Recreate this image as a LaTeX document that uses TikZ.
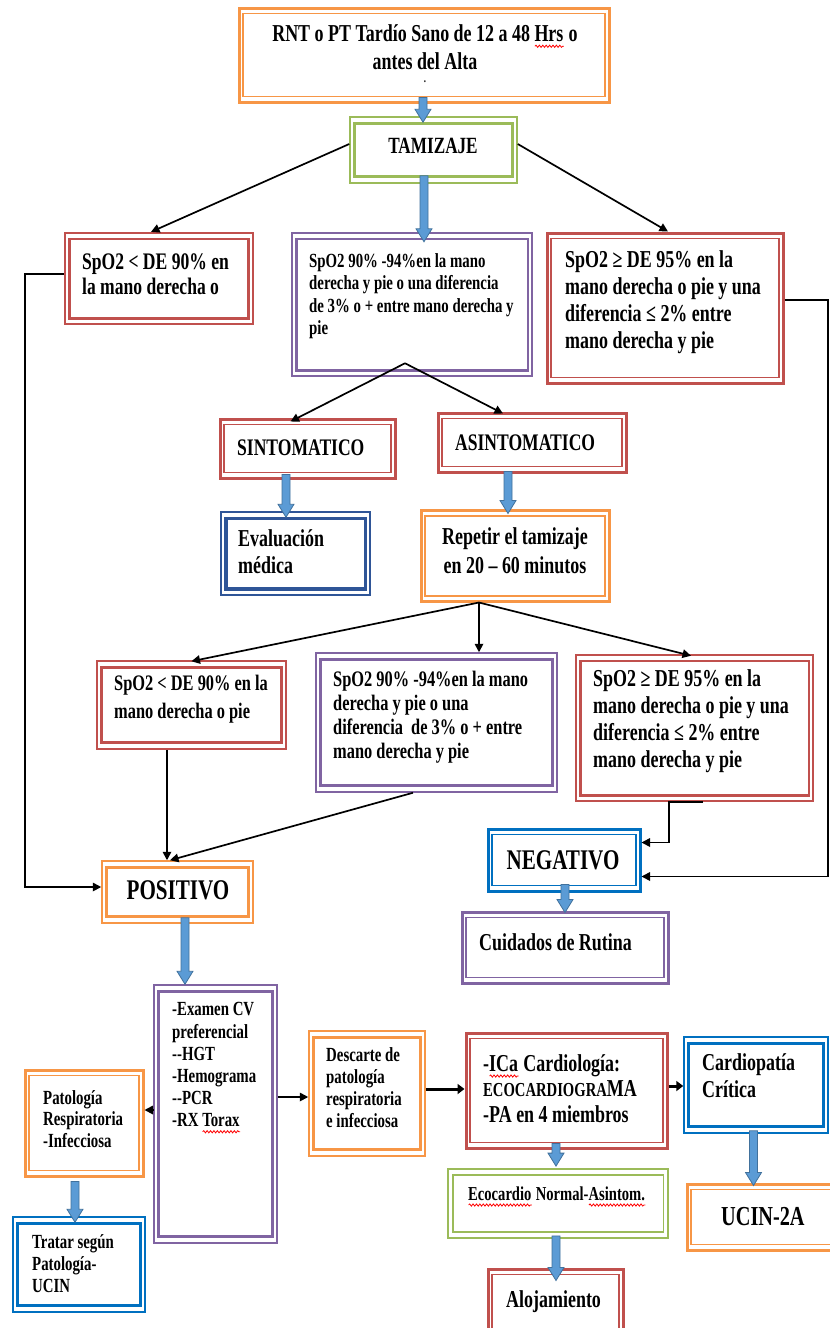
\documentclass[tikz,border=0pt]{standalone}
\usepackage{fontspec}
\setmainfont{Liberation Serif}[FakeStretch=0.74]
\usetikzlibrary{fit,calc,arrows.meta,decorations.pathmorphing}
\definecolor{cOr}{HTML}{F79646}
\definecolor{cGr}{HTML}{9BBB59}
\definecolor{cRd}{HTML}{C0504D}
\definecolor{cPu}{HTML}{8064A2}
\definecolor{cBl}{HTML}{0070C0}
\definecolor{cEv}{HTML}{2F5597}
\definecolor{arrfill}{HTML}{5B9BD5}
\definecolor{arrline}{HTML}{41719C}
\newlength\rwl
\newcommand\redwave[1]{\settowidth\rwl{#1}\rlap{#1}\tikz[baseline=0pt]\draw[red, line width=0.8pt, decorate, decoration={snake, amplitude=1.1pt, segment length=3.4pt}] (0pt,-4.8pt) -- (\rwl,-4.8pt);}
% box: name, x1, y1, x2, y2, colour, outer width, inner width
\newcommand\dblbox[8]{%
  \node[fit={(#2,#3) (#4,#5)}, inner sep=0pt, draw=#6, line width=#7pt, fill=white] (#1) {};
  \draw[#6, line width=#8pt] ([shift={(5.5pt,-7pt)}]#1.north west) rectangle ([shift={(-5.5pt,7pt)}]#1.south east);}
% text: name, x, baseline, size, skip, anchor, align, text
\newcommand\tx[8]{\node[inner sep=0pt, anchor=#6, align=#7, font={\pgfmathsetmacro\fsz{#4*1.055}\bfseries\fontsize{\fsz}{#5}\selectfont}, execute at begin node=\strut] (#1) at (#2,{#3-0.7*#5}) {#8};}
% blue block arrow: start, tip
\newcommand\barrow[2]{\path[fill=arrfill, draw=arrline, line width=0.8pt] let \p1=(#1), \p2=(#2) in
  (\x1-4pt,\y1) -- (\x1-4pt,\y2+13pt) -- (\x1-8pt,\y2+13pt) -- (\x1,\y2) -- (\x1+8pt,\y2+13pt) -- (\x1+4pt,\y2+13pt) -- (\x1+4pt,\y1) -- cycle;}
\tikzset{
  arr/.style={draw=black, line width=1.7pt, -{Triangle[length=8.5pt,width=8.5pt]}},
  arrthick/.style={draw=black, line width=3pt, -{Triangle[length=7pt,width=10pt]}}
}
\begin{document}
\begin{tikzpicture}[x=1pt,y=-1pt]
\useasboundingbox (0,0) rectangle (830,1328);
\clip (0,0) rectangle (830,1328);
\fill[white] (0,0) rectangle (830,1328);

% boxes
\dblbox{rnt}{239}{8}{609}{102}{cOr}{3}{1.5}
\dblbox{tam}{350}{117}{517}{183}{cGr}{1.5}{3}
\dblbox{lo1}{65}{233}{253}{324}{cRd}{2.2}{2.8}
\dblbox{mid1}{292}{233}{532}{376}{cPu}{2.5}{2.5}
\dblbox{hi1}{547}{233}{783}{383}{cRd}{3}{1.5}
\dblbox{sin}{220}{419}{395}{478}{cRd}{3}{1.5}
\dblbox{asin}{438}{413}{626}{472}{cRd}{3}{1.5}
\dblbox{eval}{221}{512}{370}{595}{cEv}{1.5}{3.5}
\dblbox{rep}{421}{510}{609}{601}{cOr}{3}{2}
\dblbox{lo2}{97}{661}{286}{749}{cRd}{1.5}{3}
\dblbox{mid2}{316}{653}{557}{792}{cPu}{1.5}{3}
\dblbox{hi2}{576}{655}{813}{801}{cRd}{2.5}{2.5}
\dblbox{pos}{102}{861}{253}{923}{cOr}{1.5}{3}
\dblbox{neg}{488}{829}{640}{891}{cBl}{3}{1.5}
\dblbox{cui}{462}{912}{668}{983}{cPu}{3}{1.5}
\dblbox{exa}{154}{985}{277}{1243}{cPu}{1.5}{3}
\dblbox{pat}{25}{1070}{143}{1176}{cOr}{3}{1.5}
\dblbox{tra}{13}{1217}{145}{1312}{cBl}{1.5}{3}
\dblbox{des}{309}{1031}{425}{1156}{cOr}{1.5}{3}
\dblbox{ica}{466}{1033}{667}{1148}{cRd}{3}{1.5}
\dblbox{car}{684}{1037}{828}{1133}{cBl}{1.5}{3}
\dblbox{ucin}{687}{1184}{860}{1250}{cOr}{3}{1.5}
\dblbox{eco}{448}{1169}{668}{1238}{cGr}{1.8}{1.8}
\dblbox{alo}{488}{1269}{623}{1345}{cRd}{3}{1.5}

% texts
\tx{trnt}{425}{44}{23}{28}{north}{center}{RNT o PT Tardío Sano de 12 a 48 \redwave{Hrs} o\\antes del Alta}
\node[inner sep=0pt, font=\bfseries\fontsize{12}{12}\selectfont] (dot) at (425,82) {.};
\tx{ttam}{433}{153}{22}{26}{north}{center}{TAMIZAJE}
\tx{tlo1}{82}{271}{22.5}{25}{north west}{left}{SpO2 < DE 90\% en\\la mano derecha o}
\tx{tmid1}{309}{269}{19}{22.5}{north west}{left}{SpO2 90\% -94\%en la mano\\derecha y pie o una diferencia\\de 3\% o + entre mano derecha y\\pie}
\tx{thi1}{565}{269}{23}{27}{north west}{left}{SpO2 ≥ DE 95\% en la\\mano derecha o pie y una\\diferencia ≤ 2\% entre\\mano derecha y pie}
\tx{tsin}{237}{455}{22.5}{27}{north west}{left}{SINTOMATICO}
\tx{tasin}{455}{450}{22.5}{27}{north west}{left}{ASINTOMATICO}
\tx{teval}{238}{548}{23}{27}{north west}{left}{Evaluación\\médica}
\tx{trep}{515}{548}{23}{29}{north}{center}{Repetir el tamizaje\\en 20 – 60 minutos}
\tx{tlo2}{114}{695}{21}{28}{north west}{left}{SpO2 < DE 90\% en la\\mano derecha o pie}
\tx{tmid2}{333}{688}{21}{24}{north west}{left}{SpO2 90\% -94\%en la mano\\derecha y pie o una\\diferencia \ de 3\% o + entre\\mano derecha y pie}
\tx{thi2}{593}{688}{23}{27}{north west}{left}{SpO2 ≥ DE 95\% en la\\mano derecha o pie y una\\diferencia ≤ 2\% entre\\mano derecha y pie}
\tx{tpos}{178}{899}{27}{30}{north}{center}{POSITIVO}
\tx{tneg}{563}{869}{27}{30}{north}{center}{NEGATIVO}
\tx{tcui}{479}{950}{23}{27}{north west}{left}{Cuidados de Rutina}
\tx{texa}{172}{1018}{19}{22.2}{north west}{left}{-Examen CV\\preferencial\\-{}-HGT\\-Hemograma\\-{}-PCR\\-RX \redwave{Torax}}
\tx{tpat}{43}{1105}{19}{21.5}{north west}{left}{Patología\\Respiratoria\\-Infecciosa}
\tx{ttra}{32}{1250}{19}{22}{north west}{left}{Tratar según\\Patología-\\UCIN}
\tx{tdes}{326}{1063}{19}{22}{north west}{left}{Descarte de\\patología\\respiratoria\\e infecciosa}
\tx{tica}{483}{1072}{23}{25.5}{north west}{left}{-\redwave{ICa} Cardiología:\\{\fontsize{19.8}{25.5}\selectfont ECOCARDIOGRA}MA\\-PA en 4 miembros}
\tx{tcar}{702}{1072}{23}{27}{north west}{left}{Cardiopatía\\Crítica}
\tx{tucin}{721}{1225}{26}{30}{north west}{left}{UCIN-2A}
\tx{teco}{468}{1200}{18.7}{22}{north west}{left}{\redwave{Ecocardio} Normal-\redwave{Asintom.}}
\tx{talo}{506}{1307}{23}{27}{north west}{left}{Alojamiento}

% blue block arrows
\barrow{[shift={(-1pt,6pt)}]rnt.south}{[yshift=-6pt]tam.north}
\barrow{[shift={(-9.5pt,8pt)}]tam.south}{[yshift=-10pt]mid1.north}
\barrow{[shift={(-21.5pt,5pt)}]sin.south}{[yshift=-6pt]eval.north}
\barrow{[shift={(-24pt,2pt)}]asin.south}{[yshift=-5pt]rep.north}
\barrow{[shift={(7.5pt,6pt)}]pos.south}{exa.north}
\barrow{[shift={(1pt,8pt)}]neg.south}{[yshift=-2pt]cui.north}
\barrow{[shift={(-9pt,-4pt)}]pat.south}{[yshift=-6pt]tra.north}
\barrow{[shift={(-10.5pt,6pt)}]ica.south}{[yshift=2pt]eco.north}
\barrow{[shift={(-2pt,3pt)}]eco.south}{[yshift=-13pt]alo.north}
\barrow{[shift={(-2.5pt,3pt)}]car.south}{[yshift=-3pt]ucin.north}

% black connectors
\draw[arr] ([yshift=6pt]tam.west) -- ([xshift=-8pt]lo1.north);
\draw[arr] ([yshift=6pt]tam.east) -- ([xshift=3pt]hi1.north);
\coordinate (ap1) at ([shift={(-7pt,14pt)}]mid1.south);
\draw[arr] (ap1) -- ([xshift=-17pt,yshift=-4pt]sin.north);
\draw[arr] (ap1) -- ([xshift=-29pt,yshift=-2pt]asin.north);
\coordinate (ap2) at ([xshift=-36pt]rep.south);
\draw[arr] (ap2) -- ([yshift=-1pt]lo2.north);
\draw[arr] (ap2) -- (ap2 |- mid2.north);
\draw[arr] (ap2) -- ([xshift=-3.5pt,yshift=-2pt]hi2.north);
\coordinate (lo2s) at ([xshift=-24.5pt]lo2.south);
\draw[arr] (lo2s) -- (lo2s |- pos.north);
\draw[arr] ([xshift=-23.5pt]mid2.south) -- ([xshift=-7.5pt]pos.north);
\coordinate (h2a) at ([xshift=8.5pt]hi2.south);
\coordinate (h2b) at ([xshift=-25.5pt]hi2.south);
\coordinate (n1) at ([yshift=17.5pt]neg.east);
\draw[arr] (h2a) -- (h2b) |- (n1);
\coordinate (lx) at (25,0);
\coordinate (rx) at (828,0);
\coordinate (l1) at ([yshift=4.5pt]lo1.west);
\coordinate (l2) at ([yshift=5pt]pos.west);
\draw[arr] (l1) -- (l1 -| lx) -- (lx |- l2) -- (l2);
\coordinate (r1) at ([yshift=8pt]hi1.east);
\coordinate (r2) at ([yshift=-16.5pt]neg.east);
\draw[arr] (r1) -- (r1 -| rx) -- (rx |- r2) -- (r2);
\coordinate (e1) at ([yshift=4pt]exa.west);
\draw[arr] (e1) -- (e1 -| pat.east);
\coordinate (e2) at ([yshift=17pt]exa.east);
\draw[arr] (e2) -- (e2 -| des.west);
\coordinate (d1) at ([yshift=4.5pt]des.east);
\draw[arrthick] (d1) -- (d1 -| ica.west);
\coordinate (i1) at ([yshift=4.5pt]ica.east);
\draw[arrthick] (i1) -- (i1 -| car.west);
\end{tikzpicture}
\end{document}
